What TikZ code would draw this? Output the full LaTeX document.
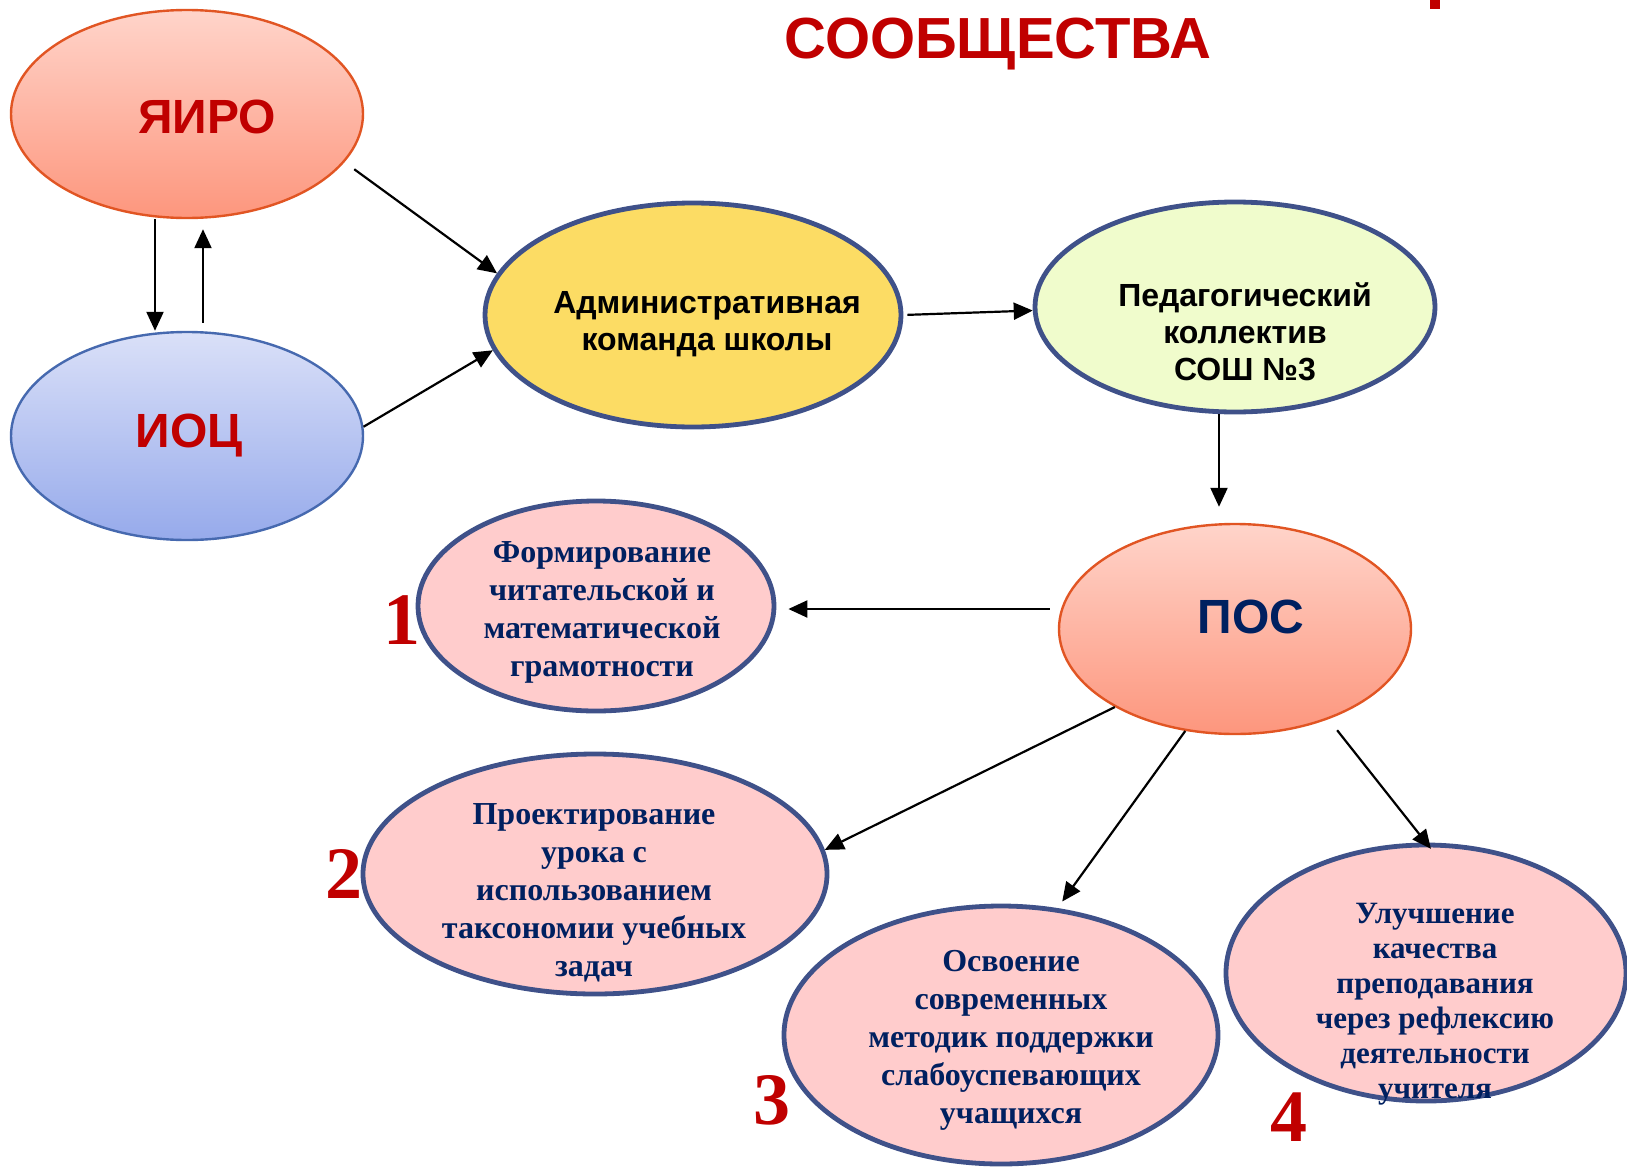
\documentclass[tikz,border=0pt]{standalone}
\usepackage{fontspec}
\setmainfont{Liberation Serif}
\setsansfont{Liberation Sans}
\usetikzlibrary{shapes.geometric,arrows.meta}

\definecolor{navyline}{RGB}{63,81,137}
\definecolor{navytext}{RGB}{0,32,96}
\definecolor{numred}{RGB}{192,0,0}
\definecolor{pinkfill}{RGB}{255,204,204}
\definecolor{adminfill}{RGB}{252,220,100}
\definecolor{pedfill}{RGB}{240,252,204}
\definecolor{salmontop}{RGB}{255,212,202}
\definecolor{salmonbot}{RGB}{253,150,125}
\definecolor{salmonline}{RGB}{225,85,35}
\definecolor{bluetop}{RGB}{218,224,248}
\definecolor{bluebot}{RGB}{150,170,235}
\definecolor{blueline}{RGB}{70,105,175}

\tikzstyle{orgbox}=[ellipse,inner sep=0pt,line width=1.2pt]
\tikzstyle{salmonorg}=[orgbox,draw=salmonline,top color=salmontop,bottom color=salmonbot]
\tikzstyle{blueorg}=[orgbox,draw=blueline,top color=bluetop,bottom color=bluebot]
\tikzstyle{teamorg}=[ellipse,inner sep=0pt,line width=2.4pt,draw=navyline]
\tikzstyle{goal}=[teamorg,fill=pinkfill]
\tikzstyle{bigcaps}=[font=\sffamily\bfseries\fontsize{24}{28}\selectfont]
\tikzstyle{teamtext}=[align=center,font=\sffamily\bfseries\fontsize{16}{18.5}\selectfont]
\tikzstyle{goaltext}=[align=center,text=navytext,font=\bfseries\fontsize{16}{19}\selectfont]
\tikzstyle{itemnum}=[text=numred,font=\bfseries\fontsize{37}{37}\selectfont]
\tikzstyle{arr}=[-{Triangle[length=9.5pt,width=8.5pt]},line width=1.1pt]

\begin{document}
\begin{tikzpicture}[x=0.5pt,y=-0.5pt]
    \useasboundingbox (0,0) rectangle (1627,1167);
    \node[text=numred,font=\sffamily\bfseries\fontsize{29}{32}\selectfont] (title) at (998,44) {СООБЩЕСТВА};
    \fill[numred] (1430,0) rectangle (1440,9);

    % outer partners
    \node[salmonorg,minimum width=176pt,minimum height=104pt] (yiro) at (187,114) {};
    \node[blueorg,minimum width=176pt,minimum height=104pt] (iots) at (187,436) {};
    \node[bigcaps,text=numred] (yirotxt) at (207,117) {ЯИРО};
    \node[bigcaps,text=numred] (iotstxt) at (189,436) {ИОЦ};

    % school
    \node[teamorg,fill=adminfill,minimum width=208pt,minimum height=112pt] (admin) at (693,315) {};
    \node[teamorg,fill=pedfill,minimum width=200pt,minimum height=105pt] (ped) at (1235,307) {};
    \node[salmonorg,minimum width=176pt,minimum height=105pt] (pos) at (1235,629) {};
    \node[teamtext] (admintxt) at (707,324) {Административная\\команда школы};
    \node[teamtext] (pedtxt) at (1245,332) {Педагогический\\коллектив\\СОШ №3};
    \node[bigcaps,text=navytext] (postxt) at (1251,617) {ПОС};

    % directions
    \node[goal,minimum width=178pt,minimum height=105pt] (e1) at (596,606) {};
    \node[goal,minimum width=232pt,minimum height=120pt] (e2) at (595,874) {};
    \node[goal,minimum width=217pt,minimum height=129pt] (e3) at (1001,1035) {};
    \node[goal,minimum width=200pt,minimum height=128pt] (e4) at (1426,973) {};
    \node[goaltext] (e1txt) at (602,612) {Формирование\\читательской и\\математической\\грамотности};
    \node[goaltext] (e2txt) at (594,893) {Проектирование\\урока с\\использованием\\таксономии учебных\\задач};
    \node[goaltext] (e3txt) at (1011,1040) {Освоение\\современных\\методик поддержки\\слабоуспевающих\\учащихся};
    \node[goaltext,font=\bfseries\fontsize{15.5}{17.5}\selectfont] (e4txt) at (1435,1004) {Улучшение\\качества\\преподавания\\через рефлексию\\деятельности\\учителя};
    \node[itemnum] (n1) at (402,620) {1};
    \node[itemnum] (n2) at (344,874) {2};
    \node[itemnum] (n3) at (772,1100) {3};
    \node[itemnum] (n4) at (1289,1117) {4};

    % arrows
    \draw[arr] ([xshift=-16pt]yiro.south) -- ([xshift=-16pt]iots.north);
    \draw[arr,shorten <=4pt,shorten >=5pt] ([xshift=8pt]iots.north) -- ([xshift=8pt]yiro.south);
    \draw[arr,shorten <=6pt] (yiro.-17) -- (admin.168);
    \draw[arr] (iots.3) -- (admin.190);
    \draw[arr,shorten <=2pt] (admin.0) -- (ped.181);
    \draw[arr,shorten >=8pt] ([xshift=-8pt]ped.south) -- ([xshift=-8pt]pos.north);
    \draw[arr,shorten <=4pt,shorten >=6pt] ([yshift=10pt]pos.west) -- ([yshift=10pt]pos.west -| e1.east);
    \draw[arr] (pos.213) -- (e2.6);
    \draw[arr,shorten >=4pt] (pos.244) -- (e3.66);
    \draw[arr,shorten <=7pt,shorten >=-4pt] (pos.-44) -- (e4.north);
\end{tikzpicture}
\end{document}
